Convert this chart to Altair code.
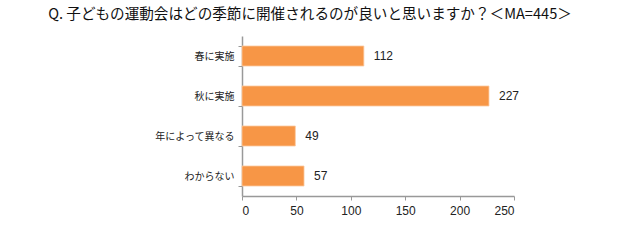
import altair as alt
import pandas as pd

categories = ["春に実施", "秋に実施", "年によって異なる", "わからない"]
values = [112, 227, 49, 57]
x_ticks = [0, 50, 100, 150, 200, 250]
title_text = "Q. 子どもの運動会はどの季節に開催されるのが良いと思いますか？＜MA=445＞"

df = pd.DataFrame({"cat": categories, "val": values})

FONT = "Noto Sans CJK JP"

base = alt.Chart(df).encode(
    y=alt.Y(
        "cat:N",
        sort=categories,
        scale=alt.Scale(paddingInner=0.5, paddingOuter=0.25),
        axis=alt.Axis(
            title=None,
            labelFont=FONT,
            labelFontSize=10,
            labelColor="#222222",
            labelPadding=4,
            domainColor="#999999",
            domainWidth=1.5,
            tickColor="#999999",
            tickSize=4,
            tickBand="extent",
        ),
    )
)

bars = base.mark_bar(color="#F79646", stroke="#FBC9A0", strokeWidth=0.8).encode(
    x=alt.X(
        "val:Q",
        scale=alt.Scale(domain=[0, 250], nice=False),
        axis=alt.Axis(
            title=None,
            values=x_ticks,
            grid=False,
            labelFont="Liberation Sans",
            labelFontSize=12,
            labelColor="#222222",
            labelPadding=5,
            domainColor="#999999",
            domainWidth=1.5,
            tickColor="#999999",
            tickSize=4,
        ),
    )
)

labels = base.mark_text(
    align="left", baseline="middle", dx=10, font="Liberation Sans", fontSize=12, color="#222222"
).encode(x="val:Q", text="val:Q")

chart = (
    alt.layer(bars, labels, view=alt.ViewBackground(strokeOpacity=0, strokeWidth=0))
    .properties(
        width=272,
        height=160,
        autosize=alt.AutoSizeParams(type="none"),
        padding={"left": 242, "top": 36, "right": 126, "bottom": 47},
        title=alt.Title(
            title_text,
            font=FONT,
            fontSize=14.6,
            fontWeight="normal",
            color="#111111",
            anchor="middle",
            dx=-68,
            offset=9,
        ),
    )
    .configure_view(strokeWidth=0, strokeOpacity=0)
    .configure(background="white")
)

chart.save("out.html", embed_options={"renderer": "svg", "actions": False})
